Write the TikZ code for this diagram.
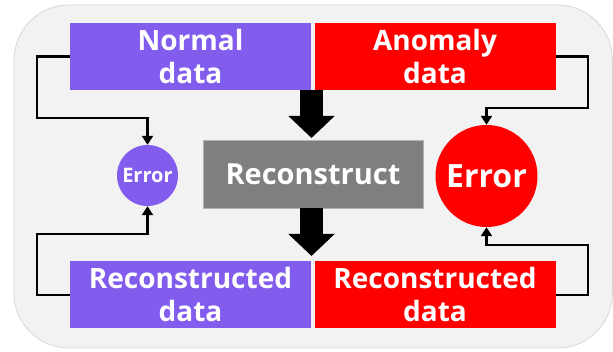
\documentclass[tikz,border=0pt]{standalone}
\usepackage{fontspec}
\setmainfont{Open Sans}
\usetikzlibrary{arrows.meta}
\definecolor{panelbg}{RGB}{242,242,242}
\definecolor{panelline}{RGB}{215,215,215}
\definecolor{normalc}{RGB}{130,92,236}
\definecolor{anomc}{RGB}{255,0,0}
\definecolor{procc}{RGB}{127,127,127}
\tikzset{
  databox/.style={rectangle, minimum width=241pt, minimum height=67pt, inner sep=0pt,
    text=white, align=center, font=\fontsize{28}{33}\selectfont\bfseries},
  procbox/.style={rectangle, minimum width=220pt, minimum height=68pt, inner sep=0pt,
    fill=procc, draw=procc!60!white, line width=0.8pt, text=white,
    font=\fontsize{29}{33}\selectfont\bfseries},
  errdot/.style={circle, inner sep=0pt, text=white},
  conn/.style={draw=black, line width=2.4pt, -{Triangle[width=11pt,length=9pt]}},
  bigarrow/.style={draw=black, line width=23pt, -{Triangle[width=45pt,length=22pt]}},
}
\begin{document}
\begin{tikzpicture}[x=1pt,y=-1pt]
\useasboundingbox (0,0) rectangle (613,352);
% panel
\draw[fill=panelbg, draw=panelline, line width=0.8pt, rounded corners=55pt] (14,5) rectangle (612.5,348);

% data boxes
\node[databox, fill=normalc] (normal) at (190.5,56.5) {Normal\\data};
\node[databox, fill=anomc]   (anomaly) at (435,56.5) {Anomaly\\data};
\node[databox, fill=normalc] (reconN) at (190.5,295) {Reconstructed\\data};
\node[databox, fill=anomc]   (reconA) at (435,295) {Reconstructed\\data};

% reconstruction step
\node[procbox] (proc) at (313,174) {Reconstruct};

% error indicators
\node[errdot, fill=normalc, minimum size=61pt, font=\fontsize{20}{24}\selectfont\bfseries] (errN) at (147.5,175.5) {Error};
\node[errdot, fill=anomc, minimum size=102pt, font=\fontsize{32}{38}\selectfont\bfseries] (errA) at (486.5,176) {Error};

% block arrows through the reconstruction step
\coordinate (inTop) at (311.5,90);
\coordinate (inTip) at (311.5,138);
\coordinate (outTop) at (311.5,208);
\coordinate (outTip) at (311.5,256);
\draw[bigarrow] (inTop) -- (inTip);
\draw[bigarrow] (outTop) -- (outTip);

% error feedback lines
\draw[conn] (normal.west) -- ++(-33,0) -- ++(0,61.5) -| (errN.north);
\draw[conn] (reconN.west) -- ++(-33,0) -- ++(0,-61) -| (errN.south);
\draw[conn] (anomaly.east) -- ++(32,0) -- ++(0,51.5) -| (errA.north);
\draw[conn] (reconA.east) -- ++(32,0) -- ++(0,-50) -| (errA.south);
\end{tikzpicture}
\end{document}
